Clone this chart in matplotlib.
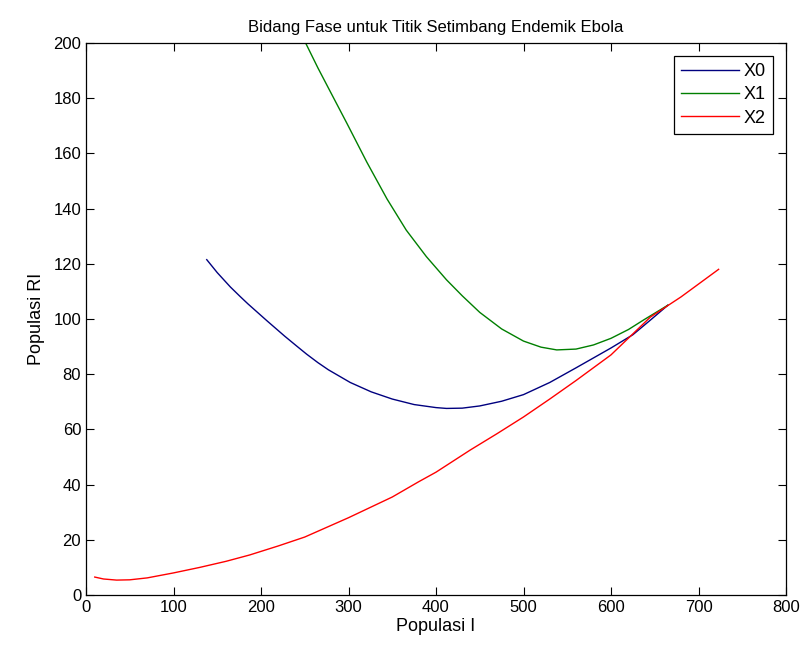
import matplotlib
matplotlib.use("Agg")
import matplotlib.pyplot as plt

# X0 trajectory (Populasi I, Populasi RI)
x0_i = [138, 150, 165, 176, 185, 207, 227, 240, 252, 265, 277, 302, 326, 350, 375, 400, 412, 430, 450, 475, 500, 530, 560, 600, 625, 645, 665]
x0_r = [121.5, 116.8, 111.6, 108.2, 105.5, 99.3, 93.8, 90.4, 87.3, 84.2, 81.6, 77, 73.6, 71, 69, 67.9, 67.6, 67.7, 68.5, 70.2, 72.6, 77, 82.3, 89.5, 94.3, 99.6, 105]

# X1 trajectory
x1_i = [251, 265, 279, 298, 321, 344, 366, 389, 412, 430, 450, 475, 500, 520, 538, 560, 580, 600, 620, 637, 665]
x1_r = [200, 191, 182.5, 171, 156.8, 143.5, 132.2, 122.6, 114.2, 108.4, 102.4, 96.4, 92, 89.8, 88.8, 89.1, 90.6, 93, 96.2, 99.6, 105]

# X2 trajectory
x2_i = [10, 20, 35, 50, 70, 100, 130, 160, 187, 220, 250, 280, 300, 330, 350, 380, 400, 439, 470, 500, 530, 560, 600, 645, 680, 723]
x2_r = [6.5, 5.8, 5.4, 5.5, 6.2, 8, 10, 12.2, 14.5, 17.8, 21, 25.2, 28, 32.5, 35.5, 41, 44.5, 52.5, 58.5, 64.5, 71, 77.7, 87, 100.7, 108, 118]

series_names = ["X0", "X1", "X2"]

fig = plt.figure(figsize=(8.07, 6.55), dpi=100)
ax = fig.add_axes([86 / 807, 60 / 655, 700 / 807, 552 / 655])

ax.plot(x0_i, x0_r, color="#00007f", lw=1.0, label=series_names[0])
ax.plot(x1_i, x1_r, color="#007f00", lw=1.0, label=series_names[1])
ax.plot(x2_i, x2_r, color="#ff0000", lw=1.0, label=series_names[2])

ax.set_xlim(0, 800)
ax.set_ylim(0, 200)
ax.set_xticks(range(0, 801, 100))
ax.set_yticks(range(0, 201, 20))
ax.tick_params(direction="in", length=6, width=0.8, top=True, right=True, labelsize=12)
for s in ax.spines.values():
    s.set_linewidth(0.9)

fam = ["Liberation Sans", "DejaVu Sans"]
for lab in ax.get_xticklabels() + ax.get_yticklabels():
    lab.set_family(fam)

ax.set_title("Bidang Fase untuk Titik Setimbang Endemik Ebola", fontsize=12, family=fam, pad=8)
ax.set_xlabel("Populasi I", fontsize=13, family=fam, labelpad=2)
ax.set_ylabel("Populasi RI", fontsize=13, family=fam, labelpad=6)

leg = ax.legend(loc="upper right", fancybox=False, framealpha=1, edgecolor="black",
                prop={"family": fam, "size": 13}, handlelength=3.2, borderaxespad=0.7,
                labelspacing=0.35, handletextpad=0.3)
leg.get_frame().set_linewidth(0.9)

fig.savefig("out.png", dpi=100)
